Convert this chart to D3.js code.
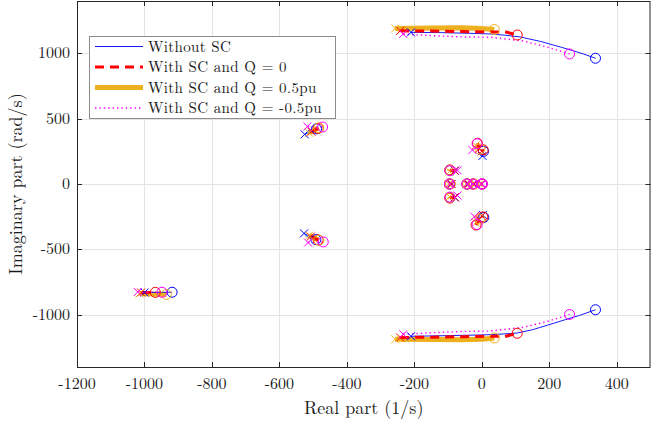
<!DOCTYPE html>
<html>
<head>
<meta charset="utf-8">
<script src="https://cdn.jsdelivr.net/npm/d3@7"></script>
<style>
  body { margin: 0; background: #fff; }
  svg { display: block; }
</style>
</head>
<body>
<svg id="chart" width="651" height="425"></svg>
<script>
// Root-locus eigenvalue trajectories: each branch is a list of [real, imag] points,
// the first point is marked with a cross (start), the last with a circle (end).
const seriesNames = ["Without SC", "With SC and Q = 0", "With SC and Q = 0.5pu", "With SC and Q = -0.5pu"];

const xTicks = [-1200, -1000, -800, -600, -400, -200, 0, 200, 400];
const yTicks = [-1000, -500, 0, 500, 1000];

const branchesNoSC = [
  [[-210,1160],[-120,1158],[-40,1153],[25,1148],[70,1138],[114,1125],[175,1090],[233,1048],[270,1020],[301,995],[337,962]],
  [[-210,-1165],[-100,-1160],[0,-1155],[60,-1148],[105,-1140],[150,-1115],[195,-1080],[245,-1040],[290,-1005],[337,-962]],
  [[-525,380],[-490,422]],
  [[-527,-378],[-492,-425]],
  [[-1000,-830],[-918,-828]],
  [[2,215],[5,250]],
  [[3,-237],[6,-255]],
  [[-80,102],[-94,104]],
  [[-80,-102],[-94,-104]],
  [[-90,0],[-95,0]],
  [[-40,0],[-44,0]],
  [[-24,0],[-26,0]],
  [[-2,0],[0,0]]
];

const branchesQ0 = [
  [[-242,1172],[-150,1170],[-50,1166],[46,1162],[60,1166],[68,1165],[90,1150],[105,1140]],
  [[-242,-1174],[-150,-1172],[-50,-1168],[46,-1164],[60,-1168],[68,-1167],[90,-1152],[105,-1142]],
  [[-505,400],[-485,425]],
  [[-507,-402],[-485,-428]],
  [[-1010,-830],[-968,-829]],
  [[-8,270],[-13,312]],
  [[0,250],[4,262]],
  [[-8,-272],[-17,-314]],
  [[0,-245],[3,-252]],
  [[-80,102],[-95,108]],
  [[-80,-102],[-95,-108]],
  [[-90,0],[-96,0]],
  [[-40,0],[-43,0]],
  [[-22,0],[-25,0]],
  [[-1,0],[1,0]]
];

const branchesQpos = [
  [[-257,1190],[-150,1193],[-60,1195],[0,1190],[37,1182]],
  [[-257,-1188],[-150,-1190],[-60,-1192],[0,-1188],[37,-1178]],
  [[-512,392],[-483,430]],
  [[-512,-395],[-483,-430]],
  [[-1015,-838],[-935,-845]],
  [[-18,295],[-6,268]],
  [[-18,-295],[-6,-268]],
  [[-96,96],[-94,104]],
  [[-96,-96],[-94,-104]],
  [[-98,0],[-93,0]],
  [[-46,0],[-42,0]],
  [[-27,0],[-24,0]],
  [[-3,0],[2,0]]
];

const branchesQneg = [
  [[-233,1148],[-150,1135],[-55,1125],[25,1123],[123,1094],[194,1048],[260,995]],
  [[-233,-1150],[-150,-1138],[-55,-1128],[25,-1125],[123,-1096],[194,-1052],[260,-998]],
  [[-517,440],[-472,436]],
  [[-515,-448],[-470,-443]],
  [[-1020,-826],[-948,-828]],
  [[-28,260],[-14,308]],
  [[-22,-250],[-14,-310]],
  [[-72,105],[-95,102]],
  [[-72,-88],[-95,-100]],
  [[-95,0],[-96,0]],
  [[-44,0],[-45,0]],
  [[-26,0],[-27,0]],
  [[-1,0],[0,0]],
  [[1,0],[2,0]]
];

const series = [
  { name: seriesNames[0], branches: branchesNoSC, color: "#0000ff", width: 0.9, dash: null },
  { name: seriesNames[1], branches: branchesQ0,   color: "#ff0000", width: 3,   dash: "9,6" },
  { name: seriesNames[2], branches: branchesQpos, color: "#edb120", width: 5,   dash: null },
  { name: seriesNames[3], branches: branchesQneg, color: "#ff00ff", width: 1.4, dash: "1.4,3" }
];
// drawing order of the trajectory lines
const lineOrder = [2, 0, 1, 3];

const FONT = "'Latin Modern Roman', 'Liberation Serif', serif";
const TEXT_COLOR = "#1a1a1a";

const svg = d3.select("#chart");
const plot = { left: 77, right: 650.5, top: 1, bottom: 367 };

const x = d3.scaleLinear().domain([-1200, 500]).range([plot.left, plot.right]);
const y = d3.scaleLinear().domain([-1400, 1400]).range([plot.bottom, plot.top]);

// grid
const grid = svg.append("g").attr("stroke", "#e4e4e4").attr("stroke-width", 1);
grid.selectAll(".gx").data(xTicks.filter(d => d > -1200 && d < 500)).join("line")
  .attr("x1", d => Math.round(x(d)) + 0.5).attr("x2", d => Math.round(x(d)) + 0.5)
  .attr("y1", plot.top).attr("y2", plot.bottom);
grid.selectAll(".gy").data(yTicks).join("line")
  .attr("y1", d => Math.round(y(d)) + 0.5).attr("y2", d => Math.round(y(d)) + 0.5)
  .attr("x1", plot.left).attr("x2", plot.right);

// clip region for marks
svg.append("clipPath").attr("id", "clip").append("rect")
  .attr("x", plot.left).attr("y", plot.top)
  .attr("width", plot.right - plot.left).attr("height", plot.bottom - plot.top);

const marks = svg.append("g").attr("clip-path", "url(#clip)");
const line = d3.line().x(d => x(d[0])).y(d => y(d[1]));

lineOrder.forEach(i => {
  const s = series[i];
  marks.append("g")
    .selectAll("path").data(s.branches).join("path")
    .attr("d", line)
    .attr("fill", "none")
    .attr("stroke", s.color)
    .attr("stroke-width", s.width)
    .attr("stroke-dasharray", s.dash)
    .attr("stroke-linejoin", "round");
});

// start (cross) and end (circle) markers
series.forEach(s => {
  const g = marks.append("g").attr("stroke", s.color).attr("stroke-width", 1).attr("fill", "none");
  const starts = s.branches.map(b => b[0]);
  const ends = s.branches.map(b => b[b.length - 1]);
  g.selectAll(".st").data(starts).join("path")
    .attr("d", d => {
      const cx = x(d[0]), cy = y(d[1]), r = 4;
      return `M${cx - r},${cy - r}L${cx + r},${cy + r}M${cx - r},${cy + r}L${cx + r},${cy - r}`;
    });
  g.selectAll(".en").data(ends).join("circle")
    .attr("cx", d => x(d[0])).attr("cy", d => y(d[1])).attr("r", 5);
});

// frame and inward ticks
const axisColor = "#262626";
svg.append("rect")
  .attr("x", plot.left + 0.5).attr("y", plot.top + 0.5)
  .attr("width", plot.right - plot.left - 1).attr("height", plot.bottom - plot.top)
  .attr("fill", "none").attr("stroke", axisColor).attr("stroke-width", 1);

const ticks = svg.append("g").attr("stroke", axisColor).attr("stroke-width", 1);
xTicks.forEach(t => {
  const px = Math.round(x(t)) + 0.5;
  ticks.append("line").attr("x1", px).attr("x2", px).attr("y1", plot.bottom).attr("y2", plot.bottom - 5);
  ticks.append("line").attr("x1", px).attr("x2", px).attr("y1", plot.top).attr("y2", plot.top + 5);
});
yTicks.forEach(t => {
  const py = Math.round(y(t)) + 0.5;
  ticks.append("line").attr("y1", py).attr("y2", py).attr("x1", plot.left).attr("x2", plot.left + 5);
  ticks.append("line").attr("y1", py).attr("y2", py).attr("x1", plot.right).attr("x2", plot.right - 5);
});

function styleText(sel, size) {
  return sel.style("font-family", FONT).style("font-size", size + "px").style("fill", TEXT_COLOR);
}

styleText(svg.append("g").selectAll("text").data(xTicks).join("text")
  .attr("x", d => x(d)).attr("y", 389)
  .attr("text-anchor", "middle")
  .text(d => String(d)), 16);

styleText(svg.append("g").selectAll("text").data(yTicks).join("text")
  .attr("x", 70).attr("y", d => y(d) + 5)
  .attr("text-anchor", "end")
  .text(d => String(d)), 16);

styleText(svg.append("text")
  .attr("x", (plot.left + plot.right) / 2).attr("y", 414)
  .attr("text-anchor", "middle")
  .text("Real part (1/s)"), 18);

styleText(svg.append("text")
  .attr("transform", `translate(22,${(plot.top + plot.bottom) / 2}) rotate(-90)`)
  .attr("text-anchor", "middle")
  .text("Imaginary part (rad/s)"), 18);

// legend
const lg = svg.append("g");
lg.append("rect").attr("x", 89.5).attr("y", 36.5).attr("width", 246).attr("height", 82)
  .attr("fill", "#fff").attr("stroke", "#8c8c8c").attr("stroke-width", 1);
series.forEach((s, i) => {
  const cy = 46.5 + i * 20.5;
  lg.append("line").attr("x1", 95).attr("x2", 143).attr("y1", cy).attr("y2", cy)
    .attr("stroke", s.color).attr("stroke-width", s.width).attr("stroke-dasharray", s.dash);
  styleText(lg.append("text").attr("x", 148).attr("y", cy + 5.3)
    .style("letter-spacing", "0.35px")
    .text(s.name), 15);
});
</script>
</body>
</html>
